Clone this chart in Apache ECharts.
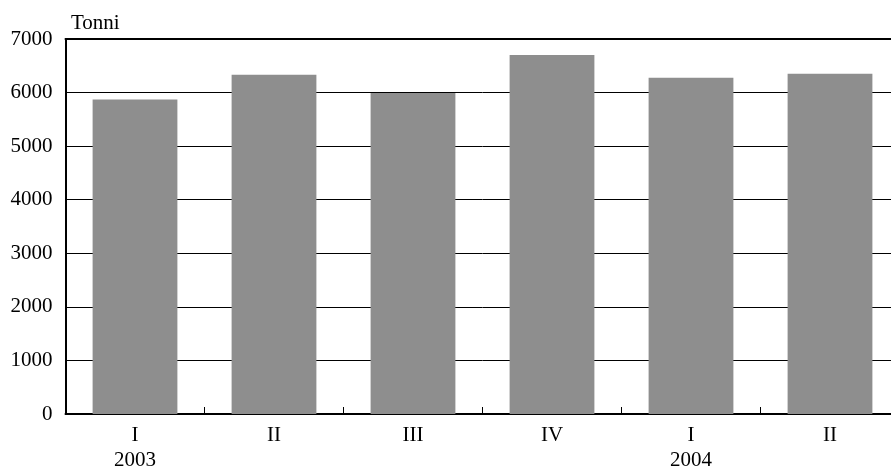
<!DOCTYPE html>
<html><head><meta charset="utf-8">
<script src="https://cdn.jsdelivr.net/npm/echarts@6/dist/echarts.min.js"></script>
<style>html,body{margin:0;padding:0;background:#fff;overflow:hidden;width:891px;height:473px}#c{width:900px;height:473px}</style>
</head><body><div id="c"></div>
<script>
const quarters = ['I','II','III','IV','I','II'];
const years = ['2003','','','','2004',''];
const values = [5870, 6333, 5993, 6703, 6277, 6351];
const yTicks = [0,1000,2000,3000,4000,5000,6000,7000];
const unitLabel = 'Tonni';

const font = 'Liberation Serif';
const chart = echarts.init(document.getElementById('c'));
chart.setOption({
  animation: false,
  backgroundColor: '#fff',
  grid: {left: 65.5, right: 0.5, top: 39, bottom: 56.3, containLabel: false},
  title: {text: unitLabel, left: 66, top: 8, textStyle: {fontFamily: font, fontSize: 21, fontWeight: 'normal', color: '#000'}},
  xAxis: [{
    type: 'category',
    data: quarters.map((q, i) => years[i] ? q + '\n' + years[i] : q),
    axisLine: {lineStyle: {color: '#000', width: 2}},
    axisTick: {show: true, inside: true, length: 7, lineStyle: {color: '#000', width: 1}},
    axisLabel: {fontFamily: font, fontSize: 21, color: '#000', lineHeight: 25, margin: 9, interval: 0},
  }, {
    type: 'category',
    position: 'top',
    data: quarters,
    axisLine: {lineStyle: {color: '#000', width: 2}},
    axisTick: {show: false},
    axisLabel: {show: false}
  }],
  yAxis: {
    type: 'value', min: yTicks[0], max: yTicks[yTicks.length-1], interval: 1000,
    axisLine: {show: true, lineStyle: {color: '#000', width: 2}},
    axisTick: {show: false},
    splitLine: {lineStyle: {color: '#000', width: 1}},
    axisLabel: {fontFamily: font, fontSize: 21, color: '#000', margin: 13, formatter: v => String(v)}
  },
  series: [{
    type: 'bar', data: values, barCategoryGap: '39%',
    itemStyle: {color: '#8e8e8e'}
  }]
});
</script></body></html>
